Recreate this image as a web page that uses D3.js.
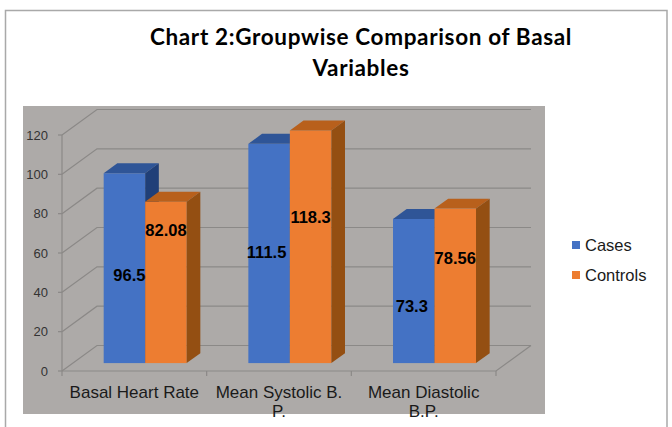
<!DOCTYPE html>
<html>
<head>
<meta charset="utf-8">
<script src="https://cdn.jsdelivr.net/npm/d3@7"></script>
<style>
  html, body { margin: 0; padding: 0; background: #fff; }
  svg { display: block; }
</style>
</head>
<body>
<div id="chart"></div>
<script>
// ---- data ----
const categories = ["Basal Heart Rate", "Mean Systolic B. P.", "Mean Diastolic B.P."];
const seriesNames = ["Cases", "Controls"];
const casesValues = [96.5, 111.5, 73.3];
const controlsValues = [82.08, 118.3, 78.56];
const valueLabels = [["96.5", "111.5", "73.3"], ["82.08", "118.3", "78.56"]];
const yTicks = [0, 20, 40, 60, 80, 100, 120];
const titleLines = ["Chart 2:Groupwise Comparison of Basal", "Variables"];

// ---- layout (not data) ----
const W = 672, H = 427;
const colors = {
  Cases:    { front: "#4472C4", top: "#2F5597", side: "#203F78" },
  Controls: { front: "#ED7D31", top: "#B8601C", side: "#944F12" }
};
// hand-read nudges for Excel-style 3D data labels (px)
const labelNudgeY = [[7, -1, 15], [-52, -30, -28]];
const labelNudgeX = [[5, -2.5, -2], [0, 0, 0]];

const DX = 35, DY = 25.5;       // full depth projection
const D0 = 0.31, DD = 0.39;      // bar depth start & thickness
const axisX = 62, axisRight = 496;

const svg = d3.select("#chart").append("svg").attr("width", W).attr("height", H);

// outer border
svg.append("rect").attr("x", 5.5).attr("y", 10.5).attr("width", 661.5).attr("height", 440)
  .attr("fill", "#fff").attr("stroke", "#A9A9A9").attr("stroke-width", 1.5);

// title
const title = svg.append("text").attr("text-anchor", "middle")
  .attr("font-family", "Lato, 'Open Sans', sans-serif").attr("font-weight", "bold")
  .attr("font-size", 22.5).attr("letter-spacing", 0.65).attr("fill", "#000");
titleLines.forEach((t, i) => {
  title.append("tspan").attr("x", 361).attr("y", 45 + i * 31).text(t);
});

// plot area
svg.append("rect").attr("x", 23).attr("y", 106).attr("width", 522).attr("height", 308)
  .attr("fill", "#ADAAA8");

const y = d3.scaleLinear().domain([0, 120]).range([371, 135]);
const x0 = d3.scaleBand().domain(categories).range([axisX, axisRight]).padding(0);
const x1 = d3.scaleBand().domain(seriesNames).range([0, x0.bandwidth()])
  .paddingInner(0).paddingOuter(0.743);

const gridColor = "#8B8987";
const grid = svg.append("g").attr("fill", "none").attr("stroke", gridColor).attr("stroke-width", 1.2);
yTicks.forEach(v => {
  const yy = y(v);
  grid.append("path").attr("d",
    `M${axisX},${yy} L${axisX + DX},${yy - DY} L${axisRight + DX},${yy - DY}`);
});
// floor front & right edges
grid.append("path").attr("d",
  `M${axisX},${y(0)} L${axisRight},${y(0)} L${axisRight + DX},${y(0) - DY}`);
// y axis line + ticks
grid.append("path").attr("d", `M${axisX},${y(120)} L${axisX},${y(0)}`);
yTicks.forEach(v => {
  grid.append("path").attr("d", `M${axisX - 4},${y(v)} L${axisX},${y(v)}`);
});
// category ticks
const catEdges = categories.map(c => x0(c)).concat([axisRight]);
catEdges.forEach(xx => {
  grid.append("path").attr("d", `M${xx},${y(0)} L${xx},${y(0) + 5}`);
});

// y tick labels
svg.append("g").selectAll("text").data(yTicks).join("text")
  .attr("x", 48).attr("y", d => y(d)).attr("dy", "0.35em")
  .attr("text-anchor", "end")
  .attr("font-family", "'Liberation Sans', Arial, sans-serif").attr("font-size", 13)
  .attr("fill", "#333").text(d => d);

// bars
const seriesValues = [casesValues, controlsValues];
const bars = svg.append("g");
categories.forEach((c, ci) => {
  seriesNames.forEach((s, si) => {
    const v = seriesValues[si][ci];
    const xl = x0(c) + x1(s) + D0 * DX;
    const w = x1.bandwidth();
    const yt = y(v) - D0 * DY;
    const yb = y(0) - D0 * DY;
    const ddx = DD * DX, ddy = DD * DY;
    const col = colors[s];
    bars.append("rect").attr("x", xl).attr("y", yt).attr("width", w).attr("height", yb - yt)
      .attr("fill", col.front);
    bars.append("path").attr("fill", col.top).attr("d",
      `M${xl},${yt} L${xl + w},${yt} L${xl + w + ddx},${yt - ddy} L${xl + ddx},${yt - ddy} Z`);
    bars.append("path").attr("fill", col.side).attr("d",
      `M${xl + w},${yt} L${xl + w + ddx},${yt - ddy} L${xl + w + ddx},${yb - ddy} L${xl + w},${yb} Z`);
  });
});

// data labels
const labels = svg.append("g");
categories.forEach((c, ci) => {
  seriesNames.forEach((s, si) => {
    const v = seriesValues[si][ci];
    const xl = x0(c) + x1(s) + D0 * DX;
    const w = x1.bandwidth();
    const yt = y(v) - D0 * DY;
    const yb = y(0) - D0 * DY;
    labels.append("text")
      .attr("x", xl + w / 2 + labelNudgeX[si][ci])
      .attr("y", (yt + yb) / 2 + labelNudgeY[si][ci])
      .attr("dy", "0.36em").attr("text-anchor", "middle")
      .attr("font-family", "'Liberation Sans', Arial, sans-serif")
      .attr("font-weight", "bold").attr("font-size", 16.5).attr("fill", "#000")
      .text(valueLabels[si][ci]);
  });
});

// category labels (wrapped)
const catG = svg.append("g");
categories.forEach(c => {
  const t = catG.append("text").attr("text-anchor", "middle")
    .attr("font-family", "'Liberation Sans', Arial, sans-serif").attr("font-size", 17)
    .attr("fill", "#1a1a1a");
  const cx = x0(c) + x0.bandwidth() / 2;
  const words = c.split(" ");
  let line = [], lineNo = 0;
  let tspan = t.append("tspan").attr("x", cx).attr("y", 397.5);
  words.forEach(wd => {
    line.push(wd);
    tspan.text(line.join(" "));
    if (tspan.node().getComputedTextLength() > 136 && line.length > 1) {
      line.pop();
      tspan.text(line.join(" "));
      line = [wd];
      lineNo++;
      tspan = t.append("tspan").attr("x", cx).attr("y", 397.5 + lineNo * 19).text(wd);
    }
  });
});

// legend
const leg = svg.append("g");
seriesNames.forEach((s, i) => {
  leg.append("rect").attr("x", 572).attr("y", 241 + i * 30).attr("width", 8).attr("height", 8)
    .attr("fill", colors[s].front);
  leg.append("text").attr("x", 585).attr("y", 251 + i * 30)
    .attr("font-family", "'Liberation Sans', Arial, sans-serif").attr("font-size", 16.5)
    .attr("fill", "#1a1a1a").text(s);
});
</script>
</body>
</html>
